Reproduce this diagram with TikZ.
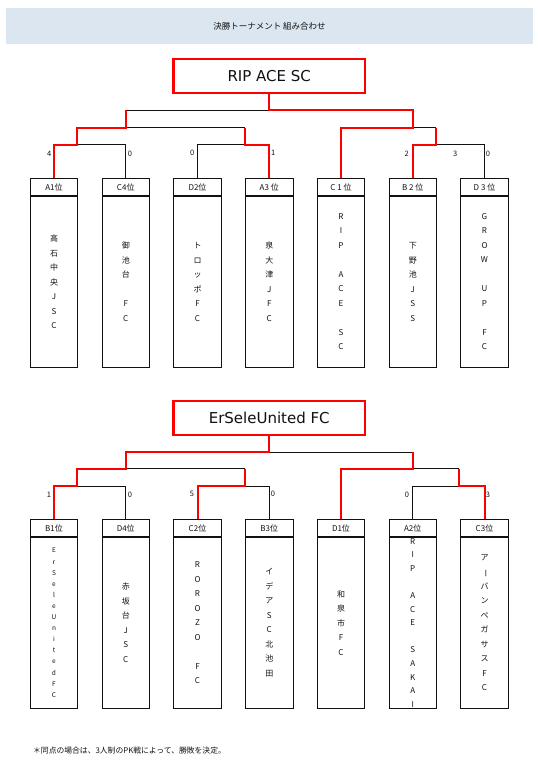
\documentclass[tikz,border=0pt]{standalone}
\usepackage{fontspec}
\setmainfont{Noto Sans CJK JP}
\newfontfamily\champfont{DejaVu Sans}
\usetikzlibrary{positioning}
\definecolor{Band}{HTML}{DCE6F0}
\definecolor{Ink}{HTML}{111111}
\definecolor{WinRed}{HTML}{FF0000}
\tikzset{
  band/.style={fill=Band,draw=none,minimum width=527pt,minimum height=36pt,font=\fontsize{8.5}{10}\selectfont,text=Ink},
  champbox/.style={draw=WinRed,line width=2.2pt,fill=white,minimum width=191.5pt,minimum height=34pt,font=\champfont\fontsize{15}{18}\selectfont,text=Ink},
  rankbox/.style={draw=Ink,line width=0.8pt,minimum width=47.5pt,minimum height=17pt,inner sep=0pt,font=\fontsize{8}{9}\selectfont,text=Ink},
  teambox/.style={draw=Ink,line width=0.8pt,minimum width=47.5pt,minimum height=170.5pt,inner sep=0pt,align=center,font=\fontsize{8}{14.5}\selectfont,text=Ink},
  scorelbl/.style={inner sep=0pt,font=\fontsize{7.5}{9}\selectfont,text=Ink},
  loseline/.style={draw=Ink,line width=0.8pt},
  winline/.style={draw=WinRed,line width=2pt}
}
\newcommand{\chouon}{\rotatebox[origin=c]{-90}{ー}}

\begin{document}
\begin{tikzpicture}[x=1pt,y=1pt]
  \useasboundingbox (0,0) rectangle (538,-764);
  \node[band] (title) at (269.5,-26) {決勝トーナメント 組み合わせ};

  % upper bracket
  \node[champbox] (rip) at (269.25,-75.6) {RIP ACE SC};
  \node[teambox] (a1t) at (54,-281.75) {高\\石\\中\\央\\J\\S\\C};
  \node[teambox] (c4t) at (125.75,-281.75) {御\\池\\台\\~\\F\\C};
  \node[teambox] (d2t) at (197.5,-281.75) {ト\\ロ\\ッ\\ポ\\F\\C};
  \node[teambox] (a3t) at (269.25,-281.75) {泉\\大\\津\\J\\F\\C};
  \node[teambox] (c1t) at (341,-281.75) {R\\I\\P\\~\\A\\C\\E\\~\\S\\C};
  \node[teambox] (b2t) at (412.75,-281.75) {下\\野\\池\\J\\S\\S};
  \node[teambox] (d3t) at (484.5,-281.75) {G\\R\\O\\W\\~\\U\\P\\~\\F\\C};
  \node[rankbox,above=0pt of a1t] (a1) {A1位};
  \node[rankbox,above=0pt of c4t] (c4) {C4位};
  \node[rankbox,above=0pt of d2t] (d2) {D2位};
  \node[rankbox,above=0pt of a3t] (a3) {A3 位};
  \node[rankbox,above=0pt of c1t] (c1) {C 1 位};
  \node[rankbox,above=0pt of b2t] (b2) {B 2 位};
  \node[rankbox,above=0pt of d3t] (d3) {D 3 位};

  \coordinate (q1) at (76.9,-144.5);
  \coordinate (q2) at (245,-144.5);
  \coordinate (q3) at (435.5,-144.5);
  \coordinate (s1) at (125.75,-127.5);
  \coordinate (s2) at (412.75,-127.5);
  \coordinate (f) at (269.25,-110);

  \draw[loseline] (q1) -| (c4.north);
  \draw[loseline] (q2) -| (d2.north);
  \draw[loseline] (q3) -| (d3.north);
  \draw[loseline] (s1) -- (q2 |- s1);
  \draw[loseline] (s2) -- (q3 |- s2);
  \draw[loseline] (s1 |- f) -- (f);
  \draw[winline] (a1.north) |- (q1) |- (s1) -- (s1 |- f);
  \draw[winline] (a3.north) |- (q2) -- (q2 |- s1);
  \draw[winline] (c1.north) |- (s2) |- (f) -- (rip.south);
  \draw[winline] (b2.north) |- (q3) -- (q3 |- s2);

  \node[scorelbl] (sa1) at (49.3,-154) {4};
  \node[scorelbl] (sc4) at (130,-154) {0};
  \node[scorelbl] (sd2) at (192.3,-152.5) {0};
  \node[scorelbl] (sa3) at (273.3,-152.5) {1};
  \node[scorelbl] (sb2) at (406.7,-154) {2};
  \node[scorelbl] (sx3) at (455.3,-154) {3};
  \node[scorelbl] (sd3) at (488,-154) {0};

  % lower bracket
  \node[champbox,minimum height=33.4pt] (erse) at (269.25,-418) {ErSeleUnited FC};
  \node[teambox,minimum height=171pt,font=\fontsize{6.5}{11.1}\selectfont] (b1t) at (54,-622.8) {E\\r\\S\\e\\l\\e\\U\\n\\i\\t\\e\\d\\F\\C};
  \node[teambox,minimum height=171pt] (d4t) at (125.75,-622.8) {赤\\坂\\台\\J\\S\\C};
  \node[teambox,minimum height=171pt] (c2t) at (197.5,-622.8) {R\\O\\R\\O\\Z\\O\\~\\F\\C};
  \node[teambox,minimum height=171pt] (b3t) at (269.25,-622.8) {イ\\デ\\ア\\S\\C\\北\\池\\田};
  \node[teambox,minimum height=171pt] (d1t) at (341,-622.8) {和\\泉\\市\\F\\C};
  \node[teambox,minimum height=171pt,font=\fontsize{8}{13.6}\selectfont] (a2t) at (412.75,-622.8) {R\\I\\P\\~\\A\\C\\E\\~\\S\\A\\K\\A\\I};
  \node[teambox,minimum height=171pt] (c3t) at (484.5,-622.8) {ア\\\chouon\\バ\\ン\\ペ\\ガ\\サ\\ス\\F\\C};
  \node[rankbox,above=0pt of b1t] (b1) {B1位};
  \node[rankbox,above=0pt of d4t] (d4) {D4位};
  \node[rankbox,above=0pt of c2t] (c2) {C2位};
  \node[rankbox,above=0pt of b3t] (b3) {B3位};
  \node[rankbox,above=0pt of d1t] (d1) {D1位};
  \node[rankbox,above=0pt of a2t] (a2) {A2位};
  \node[rankbox,above=0pt of c3t] (c3) {C3位};

  \coordinate (Q1) at (76.9,-486);
  \coordinate (Q2) at (245,-486);
  \coordinate (Q3) at (459.3,-486);
  \coordinate (S1) at (125.75,-468.7);
  \coordinate (S2) at (412.75,-468.7);
  \coordinate (F) at (269.25,-452);

  \draw[loseline] (Q1) -| (d4.north);
  \draw[loseline] (Q2) -| (b3.north);
  \draw[loseline] (Q3) -| (a2.north);
  \draw[loseline] (S1) -- (Q2 |- S1);
  \draw[loseline] (S2) -- (Q3 |- S2);
  \draw[loseline] (S2 |- F) -- (F);
  \draw[winline] (b1.north) |- (Q1) |- (S1) |- (F) -- (erse.south);
  \draw[winline] (c2.north) |- (Q2) -- (Q2 |- S1);
  \draw[winline] (d1.north) |- (S2) -- (S2 |- F);
  \draw[winline] (c3.north) |- (Q3) -- (Q3 |- S2);

  \node[scorelbl] (sb1) at (49,-495) {1};
  \node[scorelbl] (sd4) at (130,-495) {0};
  \node[scorelbl] (sc2) at (192,-494) {5};
  \node[scorelbl] (sb3) at (273,-494) {0};
  \node[scorelbl] (sa2) at (407,-495) {0};
  \node[scorelbl] (sc3) at (488,-495) {3};

  \node[anchor=west,inner sep=0pt,font=\fontsize{7.8}{9}\selectfont,text=Ink] (note) at (33,-751) {＊同点の場合は、3人制のPK戦によって、勝敗を決定。};
\end{tikzpicture}
\end{document}
